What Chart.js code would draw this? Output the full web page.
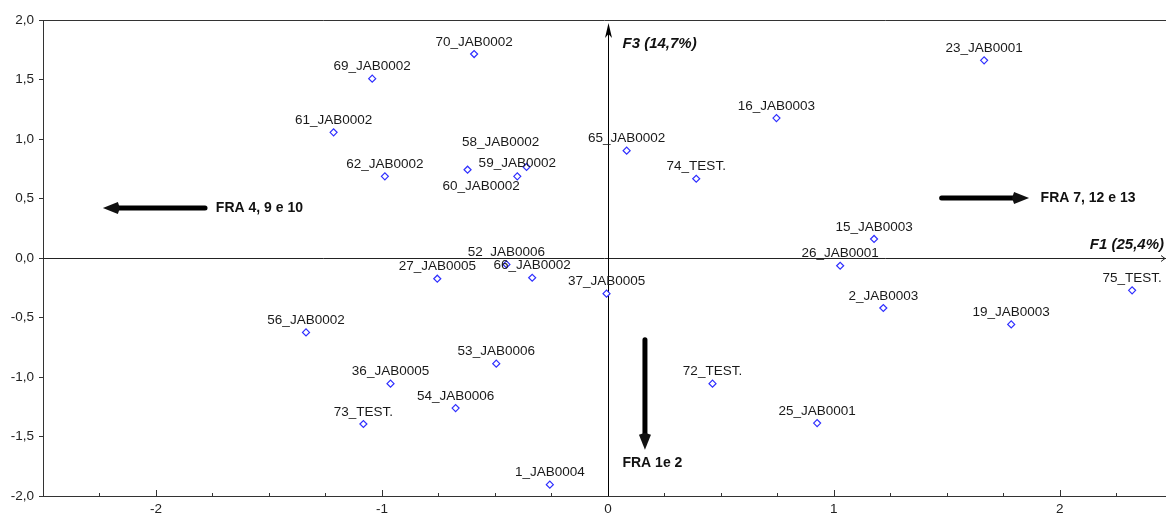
<!DOCTYPE html>
<html><head><meta charset="utf-8">
<script src="https://cdn.jsdelivr.net/npm/chart.js@4/dist/chart.umd.min.js"></script>
<style>html,body{margin:0;padding:0;background:#fff;overflow:hidden}#wrap{width:1166px;height:517px}</style>
</head><body><div id="wrap"><canvas id="c" width="1166" height="517"></canvas></div>
<script>
// ---- data ----
const names = ["70_JAB0002","69_JAB0002","61_JAB0002","62_JAB0002","58_JAB0002","59_JAB0002","60_JAB0002",
  "65_JAB0002","74_TEST.","16_JAB0003","23_JAB0001","15_JAB0003","26_JAB0001","2_JAB0003","19_JAB0003",
  "75_TEST.","25_JAB0001","72_TEST.","37_JAB0005","53_JAB0006","54_JAB0006","1_JAB0004","66_JAB0002",
  "52_JAB0006","27_JAB0005","56_JAB0002","36_JAB0005","73_TEST."];
const f1 = [-0.592,-1.043,-1.214,-0.987,-0.360,-0.401,-0.621,
  0.083,0.391,0.746,1.665,1.178,1.028,1.219,1.785,
  2.320,0.926,0.463,-0.006,-0.494,-0.674,-0.257,-0.335,
  -0.449,-0.755,-1.336,-0.962,-1.082];
const f3 = [1.714,1.507,1.056,0.686,0.765,0.686,0.742,
  0.902,0.666,1.176,1.661,0.160,-0.065,-0.420,-0.558,
  -0.272,-1.387,-1.056,-0.300,-0.888,-1.261,-1.905,-0.166,
  -0.054,-0.174,-0.625,-1.056,-1.395];
const xTicks = [-2,-1,0,1,2];
const yTicks = [-2,-1.5,-1,-0.5,0,0.5,1,1.5,2];
const xTitle = "F1 (25,4%)";
const yTitle = "F3 (14,7%)";
// annotation arrows (data coords)
const arrows = [
  {from:[-1.783,0.42], to:[-2.235,0.42], text:"FRA 4, 9 e 10", tx:-1.735, ty:0.42, align:"left"},
  {from:[1.477,0.504], to:[1.864,0.504], text:"FRA 7, 12 e 13", tx:1.915, ty:0.504, align:"left"},
  {from:[0.164,-0.687], to:[0.164,-1.611], text:"FRA 1e 2", tx:0.197, ty:-1.72, align:"center"}
];
// label placement (pixels)
const labelOffsets = {"58_JAB0002":[-26,-25], "60_JAB0002":[13.5,16.5], "59_JAB0002":[0,-13.4]};

const FONT = '"Liberation Sans", Arial, sans-serif';
const fmt = v => v.toFixed(1).replace('.', ',');

const decor = {
  id:'decor',
  beforeDatasetsDraw(chart){
    const {ctx, chartArea:a, scales:{x,y}} = chart;
    ctx.save();
    ctx.strokeStyle='#333'; ctx.lineWidth=1;
    ctx.beginPath(); ctx.moveTo(a.left, a.top+0.5); ctx.lineTo(a.right, a.top+0.5); ctx.stroke();
    for (let v=-2.5; v<=2.4; v+=0.25){
      const px = Math.round(x.getPixelForValue(v))+0.5;
      const major = Math.abs(v-Math.round(v))<1e-6;
      ctx.beginPath(); ctx.moveTo(px, a.bottom); ctx.lineTo(px, a.bottom-(major?6:3)); ctx.stroke();
    }
    const y0 = Math.round(y.getPixelForValue(0))+0.5;
    const x0 = Math.round(x.getPixelForValue(0))+0.5;
    ctx.strokeStyle='#222';
    ctx.beginPath(); ctx.moveTo(a.left, y0); ctx.lineTo(a.right, y0); ctx.stroke();
    ctx.beginPath(); ctx.moveTo(a.right-5, y0-3); ctx.lineTo(a.right-1, y0); ctx.lineTo(a.right-5, y0+3); ctx.stroke();
    ctx.strokeStyle='#000';
    ctx.beginPath(); ctx.moveTo(x0, a.bottom); ctx.lineTo(x0, a.top+6); ctx.stroke();
    ctx.fillStyle='#000';
    ctx.beginPath(); ctx.moveTo(x0, a.top+3); ctx.lineTo(x0-3.5, a.top+18); ctx.lineTo(x0, a.top+14); ctx.lineTo(x0+3.5, a.top+18); ctx.closePath(); ctx.fill();
    ctx.font = 'italic bold 15px '+FONT; ctx.fillStyle='#111'; ctx.textBaseline='middle';
    ctx.textAlign='left'; ctx.fillText(yTitle, x0+14, a.top+24);
    ctx.textAlign='right'; ctx.fillText(xTitle, a.right-2, y0-14);
    arrows.forEach(ar=>{
      const x1=x.getPixelForValue(ar.from[0]), y1=y.getPixelForValue(ar.from[1]);
      const x2=x.getPixelForValue(ar.to[0]), y2=y.getPixelForValue(ar.to[1]);
      const ang=Math.atan2(y2-y1,x2-x1), L=15, W=6;
      const bx=x2-Math.cos(ang)*L, by=y2-Math.sin(ang)*L;
      ctx.strokeStyle='#000'; ctx.lineWidth=5; ctx.lineCap='round';
      ctx.beginPath(); ctx.moveTo(x1,y1); ctx.lineTo(bx+Math.cos(ang)*3,by+Math.sin(ang)*3); ctx.stroke();
      ctx.beginPath();
      ctx.moveTo(x2,y2);
      ctx.lineTo(bx-Math.sin(ang)*W, by+Math.cos(ang)*W);
      ctx.lineTo(bx-Math.cos(ang)*2, by-Math.sin(ang)*2);
      ctx.lineTo(bx+Math.sin(ang)*W, by-Math.cos(ang)*W);
      ctx.closePath(); ctx.fill();
      ctx.font='bold 14px '+FONT; ctx.fillStyle='#111'; ctx.textAlign=ar.align; ctx.textBaseline='middle';
      ctx.fillText(ar.text, x.getPixelForValue(ar.tx), y.getPixelForValue(ar.ty));
    });
    ctx.restore();
  },
  afterDatasetsDraw(chart){
    const {ctx, scales:{x,y}} = chart;
    ctx.save();
    ctx.font='13.5px '+FONT; ctx.fillStyle='#1a1a1a'; ctx.textAlign='center'; ctx.textBaseline='middle';
    names.forEach((n,i)=>{
      const o = labelOffsets[n] || [0,-12];
      ctx.fillText(n, x.getPixelForValue(f1[i])+o[0], y.getPixelForValue(f3[i])+o[1]);
    });
    ctx.restore();
  }
};

new Chart(document.getElementById('c'), {
  type:'scatter',
  data:{datasets:[{
    data:f1.map((v,i)=>({x:v,y:f3[i]})),
    pointStyle:'rectRot', radius:3.5, hoverRadius:3.5,
    borderColor:'#2f2fff', backgroundColor:'#ffffff', borderWidth:1.2
  }]},
  options:{
    responsive:false, animation:false, devicePixelRatio:1,
    layout:{autoPadding:false, padding:{top:20,left:0,right:0,bottom:0}},
    plugins:{legend:{display:false}, tooltip:{enabled:false}},
    scales:{
      x:{type:'linear', min:-2.5, max:2.47,
        afterFit(s){s.height=21; s.paddingRight=0; s.paddingLeft=0;},
        afterBuildTicks(s){ s.ticks = xTicks.map(v=>({value:v})); },
        border:{display:true,color:'#333',width:1},
        grid:{display:true,drawOnChartArea:false,drawTicks:false},
        ticks:{autoSkip:false,maxRotation:0,padding:5,color:'#222',font:{family:FONT,size:13.5},
          callback:v=>String(v)}},
      y:{type:'linear', min:-2, max:2,
        afterFit(s){s.width=43; s.paddingTop=0; s.paddingBottom=0;},
        afterBuildTicks(s){ s.ticks = yTicks.map(v=>({value:v})); },
        border:{display:true,color:'#333',width:1},
        grid:{display:true,drawOnChartArea:false,drawTicks:true,tickLength:4,color:'#333'},
        ticks:{padding:5,color:'#222',font:{family:FONT,size:13.5},callback:v=>fmt(v)}}
    }
  },
  plugins:[decor]
});
</script></body></html>
